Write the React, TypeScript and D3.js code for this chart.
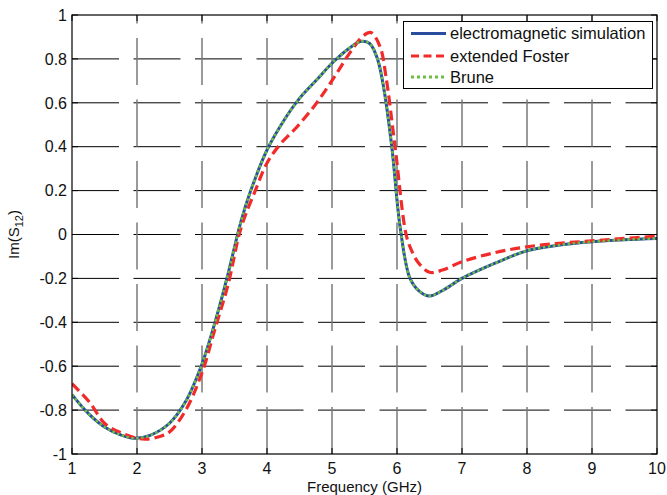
import { useEffect, useRef } from "react";
import * as d3 from "d3";

// values: Im(S12) against frequency in GHz
const emFreq = [1.0, 1.25, 1.5, 1.75, 1.95, 2.2, 2.5, 2.75, 3.0, 3.2, 3.4, 3.6, 3.75, 4.0, 4.25, 4.5, 4.75, 5.0, 5.25, 5.45, 5.58, 5.7, 5.8, 5.92, 6.05, 6.2, 6.35, 6.5, 6.7, 7.0, 7.5, 8.0, 8.5, 9.0, 9.5, 10.0];
const emValues = [-0.73, -0.815, -0.877, -0.913, -0.928, -0.915, -0.86, -0.76, -0.59, -0.4, -0.18, 0.06, 0.2, 0.385, 0.515, 0.62, 0.7, 0.78, 0.845, 0.88, 0.87, 0.8, 0.66, 0.4, 0.03, -0.2, -0.26, -0.28, -0.255, -0.2, -0.132, -0.074, -0.048, -0.033, -0.024, -0.018];

const fosterFreq = [1.0, 1.28, 1.5, 1.75, 2.0, 2.15, 2.35, 2.5, 2.75, 3.0, 3.2, 3.4, 3.6, 3.82, 4.0, 4.2, 4.46, 4.74, 5.02, 5.28, 5.48, 5.6, 5.74, 5.83, 5.97, 6.14, 6.22, 6.32, 6.5, 6.7, 7.0, 7.5, 8.0, 8.5, 9.0, 9.5, 10.0];
const fosterValues = [-0.68, -0.768, -0.86, -0.903, -0.928, -0.932, -0.92, -0.9, -0.8, -0.63, -0.43, -0.23, 0.03, 0.2, 0.326, 0.41, 0.49, 0.59, 0.71, 0.83, 0.905, 0.92, 0.855, 0.72, 0.4, 0.0, -0.07, -0.125, -0.172, -0.162, -0.124, -0.083, -0.056, -0.04, -0.029, -0.018, -0.008];

const bruneFreq = [1.0, 1.25, 1.5, 1.75, 1.95, 2.2, 2.5, 2.75, 3.0, 3.2, 3.4, 3.6, 3.75, 4.0, 4.25, 4.5, 4.75, 5.0, 5.25, 5.45, 5.58, 5.7, 5.8, 5.92, 6.05, 6.2, 6.35, 6.5, 6.7, 7.0, 7.5, 8.0, 8.5, 9.0, 9.5, 10.0];
const bruneValues = [-0.73, -0.815, -0.877, -0.913, -0.928, -0.915, -0.86, -0.76, -0.59, -0.4, -0.18, 0.06, 0.2, 0.385, 0.515, 0.62, 0.7, 0.78, 0.845, 0.88, 0.87, 0.8, 0.66, 0.4, 0.03, -0.2, -0.26, -0.28, -0.255, -0.2, -0.132, -0.074, -0.048, -0.033, -0.024, -0.018];

const xTicks = [1, 2, 3, 4, 5, 6, 7, 8, 9, 10];
const yTicks = [-1, -0.8, -0.6, -0.4, -0.2, 0, 0.2, 0.4, 0.6, 0.8, 1];
const legendLabels = ["electromagnetic simulation", "extended Foster", "Brune"];

const W = 667;
const H = 495;
const FONT = "Arial, 'Liberation Sans', Helvetica, sans-serif";

export default function App() {
  const ref = useRef<SVGSVGElement>(null);

  useEffect(() => {
    const svg = d3.select(ref.current);
    svg.selectAll("*").remove();

    const left = 72, right = 657, top = 15, bottom = 454;
    const x = d3.scaleLinear().domain([1, 10]).range([left, right]);
    const y = d3.scaleLinear().domain([-1, 1]).range([bottom, top]);

    svg.append("rect").attr("width", W).attr("height", H).attr("fill", "#fff");

    const clipId = "plot-clip";
    svg.append("clipPath").attr("id", clipId)
      .append("rect")
      .attr("x", left).attr("y", top)
      .attr("width", right - left).attr("height", bottom - top);

    // matlab style dashed grid: horizontal black, vertical grey
    const grid = svg.append("g").attr("clip-path", `url(#${clipId})`);
    grid.selectAll(".hgrid")
      .data(yTicks.slice(1, -1))
      .join("line")
      .attr("x1", left).attr("x2", right)
      .attr("y1", d => y(d)).attr("y2", d => y(d))
      .attr("stroke", "#000")
      .attr("stroke-width", 1)
      .attr("stroke-dasharray", "47,14.5");
    grid.selectAll(".vgrid")
      .data(xTicks.slice(1, -1))
      .join("line")
      .attr("x1", d => x(d)).attr("x2", d => x(d))
      .attr("y1", bottom).attr("y2", top)
      .attr("stroke", "#7a7a7a")
      .attr("stroke-width", 1.5)
      .attr("stroke-dasharray", "47,14.5");

    // inner ticks
    const ticks = svg.append("g").attr("stroke", "#000").attr("stroke-width", 1);
    xTicks.forEach(t => {
      ticks.append("line").attr("x1", x(t)).attr("x2", x(t)).attr("y1", bottom).attr("y2", bottom - 6);
      ticks.append("line").attr("x1", x(t)).attr("x2", x(t)).attr("y1", top).attr("y2", top + 6);
    });
    yTicks.forEach(t => {
      ticks.append("line").attr("x1", left).attr("x2", left + 6).attr("y1", y(t)).attr("y2", y(t));
      ticks.append("line").attr("x1", right).attr("x2", right - 6).attr("y1", y(t)).attr("y2", y(t));
    });

    const line = d3.line<[number, number]>()
      .x(d => x(d[0]))
      .y(d => y(d[1]))
      .curve(d3.curveCatmullRom.alpha(0.5));

    const curves = svg.append("g").attr("clip-path", `url(#${clipId})`).attr("fill", "none");
    curves.append("path")
      .attr("d", line(emFreq.map((f, i) => [f, emValues[i]])))
      .attr("stroke", "#2a4c9e")
      .attr("stroke-width", 3);
    curves.append("path")
      .attr("d", line(fosterFreq.map((f, i) => [f, fosterValues[i]])))
      .attr("stroke", "#f22a2a")
      .attr("stroke-width", 3.2)
      .attr("stroke-dasharray", "10,5");
    curves.append("path")
      .attr("d", line(bruneFreq.map((f, i) => [f, bruneValues[i]])))
      .attr("stroke", "#6cbd45")
      .attr("stroke-width", 2.6)
      .attr("stroke-dasharray", "2.5,2.5");

    // axes box
    svg.append("rect")
      .attr("x", left).attr("y", top)
      .attr("width", right - left).attr("height", bottom - top)
      .attr("fill", "none").attr("stroke", "#000").attr("stroke-width", 1.2);

    const labels = svg.append("g").attr("font-family", FONT).attr("font-size", 16).attr("fill", "#111");
    labels.selectAll(".xt")
      .data(xTicks)
      .join("text")
      .attr("x", d => x(d))
      .attr("y", 474)
      .attr("text-anchor", "middle")
      .text(d => String(d));
    labels.selectAll(".yt")
      .data(yTicks)
      .join("text")
      .attr("x", 67)
      .attr("y", d => y(d))
      .attr("dy", "0.36em")
      .attr("text-anchor", "end")
      .text(d => String(d));

    labels.append("text")
      .attr("x", (left + right) / 2)
      .attr("y", 492)
      .attr("text-anchor", "middle")
      .attr("font-size", 15)
      .text("Frequency (GHz)");

    const yl = labels.append("text")
      .attr("transform", `translate(19, ${(top + bottom) / 2}) rotate(-90)`)
      .attr("text-anchor", "middle")
      .attr("font-size", 15);
    yl.append("tspan").text("Im(S");
    yl.append("tspan").attr("font-size", 11).attr("dy", 4).text("12");
    yl.append("tspan").attr("dy", -4).text(")");

    // legend
    const lg = svg.append("g").attr("font-family", FONT).attr("font-size", 16.5);
    lg.append("rect")
      .attr("x", 403.5).attr("y", 21.5).attr("width", 249).attr("height", 67)
      .attr("fill", "#fff").attr("stroke", "#000").attr("stroke-width", 1);
    const styles = [
      { color: "#2a4c9e", dash: null, width: 3 },
      { color: "#f22a2a", dash: "8,4.5", width: 3 },
      { color: "#6cbd45", dash: "3,3", width: 3 },
    ];
    const rowY = [33.5, 56, 77];
    legendLabels.forEach((label, i) => {
      const s = styles[i];
      const l = lg.append("line")
        .attr("x1", 411).attr("x2", 446)
        .attr("y1", rowY[i]).attr("y2", rowY[i])
        .attr("stroke", s.color).attr("stroke-width", s.width);
      if (s.dash) l.attr("stroke-dasharray", s.dash);
      lg.append("text")
        .attr("x", 450).attr("y", rowY[i]).attr("dy", "0.36em")
        .attr("fill", "#111")
        .text(label);
    });
  }, []);

  return (
    <svg ref={ref} width={W} height={H} style={{ position: "absolute", left: 0, top: 0 }} />
  );
}
